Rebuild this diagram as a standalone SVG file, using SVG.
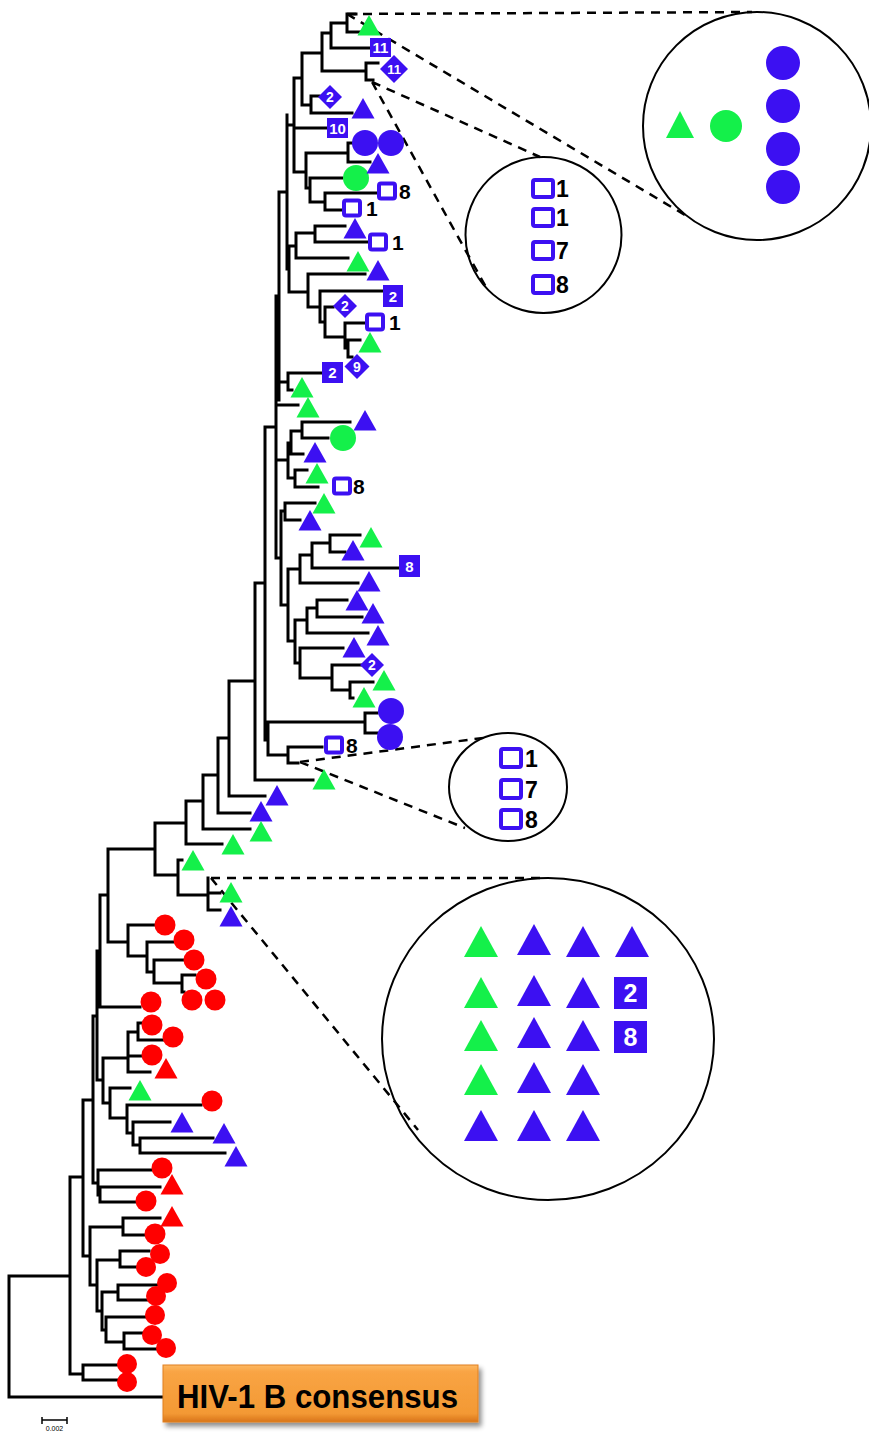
<svg xmlns="http://www.w3.org/2000/svg" xmlns:xlink="http://www.w3.org/1999/xlink" width="869" height="1432" viewBox="0 0 869 1432">
<style>
.br{fill:none;stroke:#000;stroke-width:3;stroke-linecap:square}
.dash{fill:none;stroke:#000;stroke-width:2.5;stroke-dasharray:9 7}
.ring{fill:none;stroke:#000;stroke-width:2}
.g{fill:#14f04a}.b{fill:#3c10f2}.r{fill:#ff0000}
.ob{fill:#fff;stroke:#3c10f2;stroke-width:4}
.lab{font-family:"Liberation Sans",Arial,sans-serif;font-weight:bold;font-size:21px;fill:#000}
.wn{font-family:"Liberation Sans",Arial,sans-serif;font-weight:bold;font-size:15px;fill:#fff;text-anchor:middle}
.wb{font-family:"Liberation Sans",Arial,sans-serif;font-weight:bold;font-size:25px;fill:#fff;text-anchor:middle}
.lb{font-family:"Liberation Sans",Arial,sans-serif;font-weight:bold;font-size:23px;fill:#000}
</style>
<defs>
<path id="tri" d="M0,-11 L11.5,9.5 L-11.5,9.5 Z"/>
<path id="bigTri" d="M0,-16 L17,15 L-17,15 Z"/>
<linearGradient id="orange" x1="0" y1="0" x2="0" y2="1">
<stop offset="0" stop-color="#fdb862"/>
<stop offset="0.12" stop-color="#f9a444"/>
<stop offset="0.85" stop-color="#f39934"/>
<stop offset="1" stop-color="#d8741a"/>
</linearGradient>
<filter id="shadow" x="-10%" y="-20%" width="130%" height="160%">
<feGaussianBlur in="SourceAlpha" stdDeviation="2.5"/>
<feOffset dx="3" dy="4"/>
<feComponentTransfer><feFuncA type="linear" slope="0.45"/></feComponentTransfer>
<feMerge><feMergeNode/><feMergeNode in="SourceGraphic"/></feMerge>
</filter>
</defs>
<rect width="869" height="1432" fill="#fff"/>

<!-- tree branches -->
<g id="connectors">
<path class="br" d="
M347,14V32 M347,14H356 M347,32H360
M331,23V48 M331,23H347 M331,48H370
M366,63V80 M366,63H378 M366,80H373
M322,33V71 M322,33H331 M322,71H366
M311,96V113 M311,96H319 M311,113H352
M302,53V105 M302,53H322 M302,105H311
M294,78V172 M294,78H302 M294,128H327 M294,172H306
M348,143V162 M348,143H352 M348,162H370
M306,153V188 M306,153H348 M306,188H310
M310,178V202 M310,178H342 M310,202H325
M325,193V210 M325,193H377 M325,210H342
M296,233V258 M296,233H315 M296,258H348
M315,226V242 M315,226H345 M315,242H367
M289,246V292 M289,246H296 M289,292H308
M308,274V307 M308,274H365 M308,307H320
M320,291V322 M320,291H383 M320,322H325
M325,307V337 M325,307H333 M325,337H345
M345,323V348 M345,323H365 M345,348H348
M348,340V357 M348,340H360 M348,357H352
M288,373V390 M288,373H322 M288,390H292
M287,115V269 M287,125H294 M287,269H289
M279,192V400 M279,192H287 M279,382H288
M276,296V558 M276,296H279 M276,405H298 M276,460H288 M276,558H281
M265,427V740 M265,427H276 M265,740H268
M302,422V438 M302,422H350 M302,438H328
M291,431V454 M291,431H302 M291,454H303
M295,470V487 M295,470H307 M295,487H318
M288,443V478 M288,443H291 M288,478H295
M285,503V520 M285,503H315 M285,520H300
M281,511V605 M281,511H285 M281,605H288
M288,569V641 M288,569H300 M288,641H295
M300,555V583 M300,555H312 M300,583H358
M312,543V568 M312,543H330 M312,568H398
M330,535V552 M330,535H360 M330,552H345
M295,620V663 M295,620H307 M295,663H300
M307,608V633 M307,608H317 M307,633H368
M317,600V617 M317,600H347 M317,617H362
M300,648V678 M300,648H343 M300,678H332
M332,665V690 M332,665H361 M332,690H350
M350,682V698 M350,682H373 M350,698H353
M268,722V755 M268,722H365 M268,755H288
M365,713V733 M365,713H377 M365,733H377
M288,747V763 M288,747H322 M288,763H298
M255,583V780 M255,583H265 M255,780H313
M229,681V796 M229,681H255 M229,796H265
M218,738V813 M218,738H229 M218,813H250
M203,775V829 M203,775H218 M203,829H250
M186,801V844 M186,801H203 M186,844H222
M155,823V875 M155,823H186 M155,875H178
M178,860V895 M178,860H182 M178,895H208
M208,878V910 M208,893H220 M208,910H220
M108,849V942 M108,849H155 M108,942H128
M128,925V956 M128,925H155 M128,956H147
M147,942V972 M147,942H173 M147,972H154
M154,960V983 M154,960H183 M154,983H182
M182,975V992 M182,975H195 M182,992H184
M100,895V1007 M100,895H108 M100,1007H140
M97,951V1080 M97,951H100 M97,1080H103
M93,1016V1183 M93,1016H97 M93,1183H98
M103,1058V1103 M103,1058H128 M103,1103H110
M128,1032V1072 M128,1032H138 M128,1056H142 M128,1072H150
M138,1023V1040 M138,1023H142 M138,1040H163
M110,1088V1118 M110,1088H130 M110,1118H127
M127,1105V1133 M127,1105H201 M127,1133H133
M133,1122V1145 M133,1122H170 M133,1145H140
M140,1138V1153 M140,1138H213 M140,1153H225
M98,1170V1195 M98,1170H151 M98,1195H100
M100,1187V1202 M100,1187H160 M100,1202H137
M83,1100V1256 M83,1100H93 M83,1256H90
M90,1227V1285 M90,1227H123 M90,1285H97
M123,1218V1235 M123,1218H160 M123,1235H145
M97,1260V1311 M97,1260H120 M97,1311H102
M120,1251V1267 M120,1251H149 M120,1267H137
M102,1292V1330 M102,1292H118 M102,1330H106
M118,1285V1300 M118,1285H157 M118,1300H147
M106,1317V1342 M106,1317H145 M106,1342H124
M124,1333V1349 M124,1333H142 M124,1349H157
M70,1177V1374 M70,1177H83 M70,1374H83
M83,1365V1380 M83,1365H118 M83,1380H118
M9,1276V1397 M9,1276H70 M9,1397H163"/>
<!-- zoom callout lines -->
<path class="dash" d="M347,14L752,12 M347,14L690,218 M372,82L540,157 M372,82L487,289 M300,762L490,737 M300,762L465,828 M211,878L540,878 M211,878L418,1130"/>
</g>

<!-- leaf markers: triangles -->
<g id="leaf-triangles">
<use href="#tri" class="g" x="369" y="26"/>
<use href="#tri" class="b" x="363" y="109"/>
<use href="#tri" class="b" x="355" y="229"/>
<use href="#tri" class="g" x="358" y="262"/>
<use href="#tri" class="b" x="378" y="271"/>
<use href="#tri" class="g" x="370" y="343"/>
<use href="#tri" class="g" x="302" y="388"/>
<use href="#tri" class="g" x="308" y="408"/>
<use href="#tri" class="b" x="365" y="421"/>
<use href="#tri" class="b" x="315" y="453"/>
<use href="#tri" class="g" x="317" y="474"/>
<use href="#tri" class="g" x="324" y="504"/>
<use href="#tri" class="b" x="310" y="521"/>
<use href="#tri" class="g" x="371" y="538"/>
<use href="#tri" class="b" x="353" y="551"/>
<use href="#tri" class="b" x="369" y="582"/>
<use href="#tri" class="b" x="357" y="601"/>
<use href="#tri" class="b" x="373" y="614"/>
<use href="#tri" class="b" x="378" y="636"/>
<use href="#tri" class="b" x="354" y="648"/>
<use href="#tri" class="g" x="384" y="681"/>
<use href="#tri" class="g" x="364" y="698"/>
<use href="#tri" class="g" x="324" y="780"/>
<use href="#tri" class="b" x="277" y="796"/>
<use href="#tri" class="b" x="261" y="812"/>
<use href="#tri" class="g" x="261" y="832"/>
<use href="#tri" class="g" x="233" y="845"/>
<use href="#tri" class="g" x="193" y="861"/>
<use href="#tri" class="g" x="231" y="893"/>
<use href="#tri" class="b" x="231" y="917"/>
<use href="#tri" class="r" x="166" y="1069"/>
<use href="#tri" class="g" x="140" y="1091"/>
<use href="#tri" class="b" x="182" y="1123"/>
<use href="#tri" class="b" x="224" y="1134"/>
<use href="#tri" class="b" x="236" y="1157"/>
<use href="#tri" class="r" x="172" y="1185"/>
<use href="#tri" class="r" x="172" y="1217"/>
</g>

<!-- leaf markers: circles -->
<g id="leaf-circles">
<circle class="b" cx="365" cy="143" r="13"/>
<circle class="b" cx="391" cy="143" r="13"/>
<circle class="g" cx="356" cy="178" r="13"/>
<circle class="g" cx="343" cy="438" r="13"/>
<circle class="b" cx="391" cy="711" r="13"/>
<circle class="b" cx="390" cy="737" r="13"/>
<circle class="r" cx="165" cy="925" r="10.5"/>
<circle class="r" cx="184" cy="940" r="10.5"/>
<circle class="r" cx="194" cy="960" r="10.5"/>
<circle class="r" cx="206" cy="979" r="10.5"/>
<circle class="r" cx="192" cy="1000" r="10.5"/>
<circle class="r" cx="215" cy="1000" r="10.5"/>
<circle class="r" cx="151" cy="1002" r="10.5"/>
<circle class="r" cx="152" cy="1025" r="10.5"/>
<circle class="r" cx="173" cy="1037" r="10.5"/>
<circle class="r" cx="152" cy="1055" r="10.5"/>
<circle class="r" cx="212" cy="1101" r="10.5"/>
<circle class="r" cx="162" cy="1168" r="10.5"/>
<circle class="r" cx="146" cy="1201" r="10.5"/>
<circle class="r" cx="155" cy="1234" r="10.5"/>
<circle class="r" cx="160" cy="1254" r="10"/>
<circle class="r" cx="146" cy="1267" r="10"/>
<circle class="r" cx="167" cy="1283" r="10"/>
<circle class="r" cx="156" cy="1296" r="10"/>
<circle class="r" cx="155" cy="1315" r="10"/>
<circle class="r" cx="152" cy="1335" r="10"/>
<circle class="r" cx="166" cy="1348" r="10"/>
<circle class="r" cx="127" cy="1364" r="10"/>
<circle class="r" cx="127" cy="1382" r="10"/>
</g>
<g id="leaf-blue-tri-top"><use href="#tri" class="b" x="378" y="164"/></g>

<!-- numbered filled boxes -->
<g id="box-11"><rect class="b" x="370" y="38" width="21" height="19"/><text class="wn" x="380.5" y="53">11</text></g>
<g id="box-10"><rect class="b" x="327" y="118" width="21" height="20"/><text class="wn" x="337.5" y="134">10</text></g>
<g id="box-2a"><rect class="b" x="383" y="285" width="20" height="22"/><text class="wn" x="393" y="302">2</text></g>
<g id="box-2b"><rect class="b" x="322" y="362" width="21" height="21"/><text class="wn" x="332.5" y="378">2</text></g>
<g id="box-8a"><rect class="b" x="399" y="555" width="21" height="22"/><text class="wn" x="409.5" y="572">8</text></g>

<!-- numbered diamonds -->
<g id="dia-11"><path class="b" d="M394,55L408,69L394,83L380,69Z"/><text class="wn" x="394" y="74" style="font-size:13px">11</text></g>
<g id="dia-2a"><path class="b" d="M330,85L342,97L330,109L318,97Z"/><text class="wn" x="330" y="102" style="font-size:14px">2</text></g>
<g id="dia-2b"><path class="b" d="M345,294L357,306L345,318L333,306Z"/><text class="wn" x="345" y="311" style="font-size:14px">2</text></g>
<g id="dia-9"><path class="b" d="M357,354L369.5,366.5L357,379L344.5,366.5Z"/><text class="wn" x="357" y="371.5" style="font-size:14px">9</text></g>
<g id="dia-2c"><path class="b" d="M372,653L384,665L372,677L360,665Z"/><text class="wn" x="372" y="670" style="font-size:14px">2</text></g>

<!-- numbered open boxes -->
<g id="ob-8a"><rect class="ob" x="379" y="183.5" width="16" height="15" rx="2"/><text class="lab" x="399" y="198.5">8</text></g>
<g id="ob-1a"><rect class="ob" x="344" y="200.5" width="16" height="15" rx="2"/><text class="lab" x="366" y="216">1</text></g>
<g id="ob-1b"><rect class="ob" x="370" y="234.5" width="16" height="15" rx="2"/><text class="lab" x="392" y="250">1</text></g>
<g id="ob-1c"><rect class="ob" x="367" y="314.5" width="16" height="15" rx="2"/><text class="lab" x="389" y="330">1</text></g>
<g id="ob-8b"><rect class="ob" x="334" y="478.5" width="16" height="15" rx="2"/><text class="lab" x="353" y="494">8</text></g>
<g id="ob-8c"><rect class="ob" x="326" y="737.5" width="16" height="15" rx="2"/><text class="lab" x="346" y="753">8</text></g>

<!-- callout: upper right -->
<g id="zoom-top">
<circle class="ring" cx="757" cy="126" r="114"/>
<path class="g" d="M680,111L694,138L666,138Z"/>
<circle class="g" cx="726" cy="126" r="16"/>
<circle class="b" cx="783" cy="63" r="17"/>
<circle class="b" cx="783" cy="106" r="17"/>
<circle class="b" cx="783" cy="149" r="17"/>
<circle class="b" cx="783" cy="187" r="17"/>
</g>

<!-- callout: middle -->
<g id="zoom-mid">
<circle class="ring" cx="543.5" cy="235" r="78"/>
<rect class="ob" x="533" y="180" width="20" height="17" rx="2"/><text class="lb" x="556" y="197">1</text>
<rect class="ob" x="533" y="209" width="20" height="17" rx="2"/><text class="lb" x="556" y="226">1</text>
<rect class="ob" x="533" y="242" width="20" height="17" rx="2"/><text class="lb" x="556" y="259">7</text>
<rect class="ob" x="533" y="276" width="20" height="17" rx="2"/><text class="lb" x="556" y="293">8</text>
</g>

<!-- callout: small -->
<g id="zoom-small">
<ellipse class="ring" cx="508" cy="787" rx="59" ry="54"/>
<rect class="ob" x="501" y="749" width="20" height="18" rx="2"/><text class="lb" x="525" y="767">1</text>
<rect class="ob" x="501" y="780" width="20" height="18" rx="2"/><text class="lb" x="525" y="798">7</text>
<rect class="ob" x="501" y="810" width="20" height="18" rx="2"/><text class="lb" x="525" y="828">8</text>
</g>

<!-- callout: lower -->
<g id="zoom-low">
<ellipse class="ring" cx="548" cy="1039" rx="166" ry="161"/>
<use href="#bigTri" class="g" x="481" y="942"/>
<use href="#bigTri" class="b" x="534" y="940"/>
<use href="#bigTri" class="b" x="583" y="942"/>
<use href="#bigTri" class="b" x="632" y="942"/>
<use href="#bigTri" class="g" x="481" y="993"/>
<use href="#bigTri" class="b" x="534" y="991"/>
<use href="#bigTri" class="b" x="583" y="993"/>
<rect class="b" x="614" y="977" width="33" height="32"/><text class="wb" x="630.5" y="1002">2</text>
<use href="#bigTri" class="g" x="481" y="1036"/>
<use href="#bigTri" class="b" x="534" y="1033"/>
<use href="#bigTri" class="b" x="583" y="1036"/>
<rect class="b" x="614" y="1021" width="33" height="32"/><text class="wb" x="630.5" y="1046">8</text>
<use href="#bigTri" class="g" x="481" y="1080"/>
<use href="#bigTri" class="b" x="534" y="1078"/>
<use href="#bigTri" class="b" x="583" y="1080"/>
<use href="#bigTri" class="b" x="481" y="1126"/>
<use href="#bigTri" class="b" x="534" y="1126"/>
<use href="#bigTri" class="b" x="583" y="1126"/>
</g>

<!-- outgroup label -->
<g id="consensus">
<rect x="163" y="1365" width="315" height="57" fill="url(#orange)" stroke="#e08020" stroke-width="1" filter="url(#shadow)"/>
<text x="177" y="1408" textLength="281" lengthAdjust="spacingAndGlyphs" style="font-family:'Liberation Sans',Arial,sans-serif;font-weight:bold;font-size:33px;fill:#000">HIV-1 B consensus</text>
</g>

<!-- scale bar -->
<g id="scale">
<path d="M42,1420H67 M42,1417V1424 M67,1417V1424" fill="none" stroke="#000" stroke-width="1.5"/>
<text x="54.5" y="1431" text-anchor="middle" style="font-family:'Liberation Sans',Arial,sans-serif;font-size:7px;fill:#000">0.002</text>
</g>
</svg>
